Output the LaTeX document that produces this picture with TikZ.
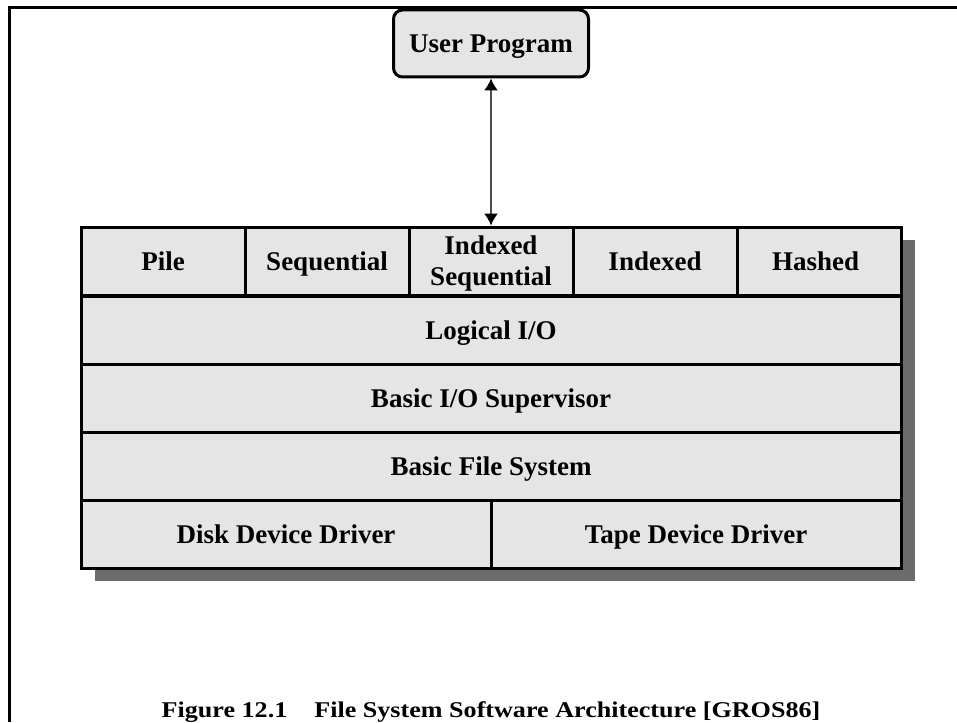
\documentclass[tikz,border=0pt]{standalone}
\usepackage{fontspec}
\setmainfont{Liberation Serif}
\newfontfamily\capfont[FakeStretch=1.16]{Liberation Serif}
\usetikzlibrary{arrows.meta}

\tikzset{
  cell/.style={draw, line width=3pt, fill=black!10, minimum width=164, minimum height=68,
    inner sep=0pt, align=center, text depth=0pt, font=\bfseries\fontsize{27}{31}\selectfont},
  layer/.style={cell, minimum width=820},
  driver/.style={cell, minimum width=410},
  userbox/.style={cell, rounded corners=9pt, minimum width=195, minimum height=67},
  headtip/.tip={Latex[length=12pt,width=14pt,color=black]}
}

\begin{document}
\begin{tikzpicture}[x=1pt,y=-1pt]
		\useasboundingbox (0,0) rectangle (957,722);
		% frame
		\draw[line width=2.5pt] (9.5,722) -- (9.5,7.5) -- (957,7.5);
		% shadow
		\fill[black!58] (95,240) rectangle (915,581);
		% file organisations
		\foreach[count=\i] \nm/\txt in {
			pile/Pile, seq/Sequential, iseq/{Indexed\\Sequential}, idx/Indexed, hash/Hashed
		} {
			\node[cell] (\nm) at (163+164*\i-164, 261) {\txt};
		}
		\node[layer] (logio) at (491, 330) {Logical I/O};
		\node[layer] (basicio) at (491, 398) {Basic I/O Supervisor};
		\node[layer] (basicfs) at (491, 466) {Basic File System};
		\node[driver] (disk) at (286, 534) {Disk Device Driver};
		\node[driver] (tape) at (696, 534) {Tape Device Driver};
		\node[userbox] (user) at (491, 43.5) {User Program};
		\draw[headtip-headtip, line width=1.5pt, black!70] (user.south) -- (iseq.north);
		\node[anchor=base, inner sep=0pt, font=\capfont\bfseries\fontsize{22.5}{27}\selectfont] (caption)
			at (491, 717) {Figure 12.1\hspace{27pt}File System Software Architecture [GROS86]};
	\end{tikzpicture}
\end{document}
